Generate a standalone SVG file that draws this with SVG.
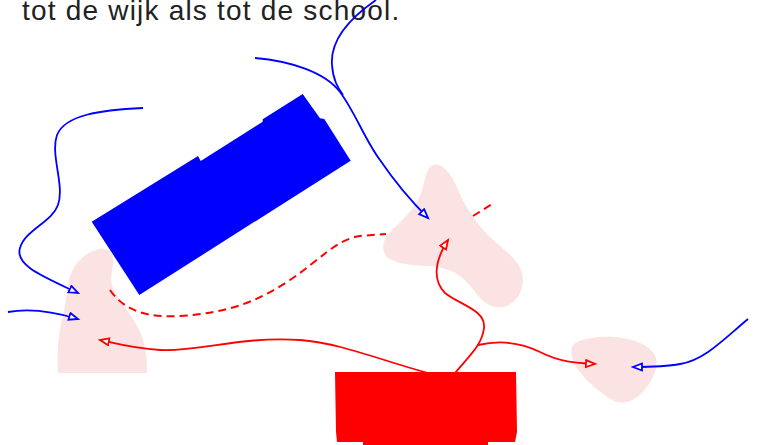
<svg xmlns="http://www.w3.org/2000/svg" width="757" height="445" viewBox="0 0 757 445">
<style>
.blob{fill:#fbe3e3;stroke:none}
.b{fill:none;stroke:#0000ff;stroke-width:1.8}
.r{fill:none;stroke:#ff0000;stroke-width:1.8}
.rd{fill:none;stroke:#ff0000;stroke-width:2;stroke-dasharray:8 5}
.t{font-family:"Liberation Sans",Arial,sans-serif;font-size:28px;fill:#222;letter-spacing:1.2px}
</style>
<defs>
<marker id="ab" markerUnits="userSpaceOnUse" markerWidth="13" markerHeight="11" refX="10" refY="4.5" orient="auto"><path d="M1,1 L10,4.5 L1,8 Z" fill="#fff" stroke="#0000ff" stroke-width="1.8"/></marker>
<marker id="ar" markerUnits="userSpaceOnUse" markerWidth="13" markerHeight="11" refX="10" refY="4.5" orient="auto"><path d="M1,1 L10,4.5 L1,8 Z" fill="#fff" stroke="#ff0000" stroke-width="1.8"/></marker>
</defs>
<rect width="757" height="445" fill="#fff"/>
<g id="blob-left"><path class="blob" d="M96,250 C104,247 112,250 113,258 C114,268 108,278 114,290 C122,305 138,322 143,340 C147,355 147,365 147,373 L58,373 C57,355 58,335 62,320 C66,305 66,295 68,285 C70,268 82,254 96,250 Z"/></g>
<g id="blob-center"><path class="blob" d="M430,167 C437,160 448,168 455,183 C462,200 470,215 485,232 C500,248 515,255 521,270 C526,285 520,300 507,306 C495,310 485,305 475,292 C465,278 455,270 437,267 C420,265 400,266 388,258 C380,250 382,240 392,230 C405,218 418,205 422,190 C425,180 426,172 430,167 Z"/></g>
<g id="blob-right"><path class="blob" d="M573,345 C580,338 600,336 615,337 C635,339 652,346 656,358 C659,370 650,385 640,395 C630,403 620,405 612,400 C600,392 588,383 580,372 C572,362 569,352 573,345 Z"/></g>
<g id="school-blue"><polygon fill="#0000ff" points="91.7,221.7 198,156 200.7,161 262.7,121.7 262.7,119.3 302.7,94 320,118.3 324.3,119 350.7,160.7 139.3,295"/></g>
<g id="school-red"><polygon fill="#ff0000" points="335,372 516,372 517,432 515,442 488,442 488,445 363,445 363,442 337,442 336,432"/></g>
<text class="t" x="22" y="20">tot de wijk als tot de school.</text>
<g id="connectors">
<path class="rd" d="M110,290 C125,312 150,318 180,316 C230,313 260,300 290,280 C320,260 335,240 360,236 L386,234"/>
<path class="rd" d="M473,216 L492,204"/>
<path class="r" marker-end="url(#ar)" d="M428,373 C380,360 340,343 300,340 C240,336 200,352 160,350 C130,348 115,343 100,340"/>
<path class="r" marker-end="url(#ar)" d="M455,373 C470,355 482,345 484,328 C486,310 460,305 445,293 C432,280 435,260 448,240"/>
<path class="r" marker-end="url(#ar)" d="M478,345 C500,340 520,342 540,352 C560,362 575,363 595,364"/>
<path class="b" marker-end="url(#ab)" d="M143,108 C100,110 65,115 57,135 C50,155 65,185 58,205 C52,222 25,230 20,248 C15,265 40,275 78,293"/>
<path class="b" marker-end="url(#ab)" d="M8,312 C30,308 55,312 78,319"/>
<path class="b" marker-end="url(#ab)" d="M255,58 C290,61 325,72 340,92 C355,112 365,140 380,160 C395,182 410,200 428,218"/>
<path class="b" d="M376,0 C350,18 330,40 332,65 C333,80 338,88 343,95"/>
<path class="b" marker-end="url(#ab)" d="M748,319 C725,338 705,360 680,364 C665,367 650,367 633,367"/>
</g>
</svg>
